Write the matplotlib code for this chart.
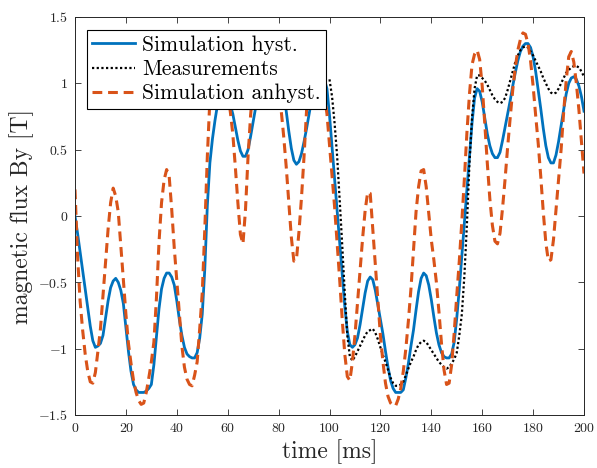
from __future__ import annotations

import matplotlib

matplotlib.use("Agg")
import matplotlib.pyplot as plt

OUT_PNG = "out.png"

BLUE = "#0072BD"
ORANGE = "#D95319"

# time axis [ms], one sample per millisecond
time_sim = list(range(0, 201))
time_meas = list(range(100, 201))

# Simulation hyst. [T]
flux_hyst = [
    0.00, -0.13, -0.27, -0.41, -0.55, -0.69, -0.83, -0.94, -0.99, -0.98,
    -0.96, -0.90, -0.77, -0.64, -0.54, -0.49, -0.47, -0.50, -0.56, -0.66,
    -0.84, -1.02, -1.17, -1.27, -1.31, -1.33, -1.33, -1.33, -1.32, -1.30,
    -1.27, -1.12, -0.91, -0.70, -0.55, -0.47, -0.43, -0.43, -0.46, -0.52,
    -0.64, -0.78, -0.90, -0.99, -1.04, -1.06, -1.07, -1.07, -1.03, -0.92,
    -0.74, -0.40, 0.08, 0.40, 0.58, 0.72, 0.84, 0.93, 0.97, 0.96,
    0.90, 0.84, 0.77, 0.67, 0.57, 0.49, 0.45, 0.45, 0.50, 0.60,
    0.71, 0.82, 0.95, 1.07, 1.17, 1.24, 1.28, 1.30, 1.29, 1.25,
    1.17, 1.05, 0.92, 0.79, 0.64, 0.51, 0.42, 0.39, 0.41, 0.47,
    0.56, 0.66, 0.77, 0.88, 0.97, 1.03, 1.06, 1.06, 1.03, 0.96,
    0.76, 0.52, 0.28, 0.05, -0.20, -0.45, -0.68, -0.87, -0.97, -0.99,
    -0.97, -0.92, -0.82, -0.70, -0.58, -0.49, -0.46, -0.48, -0.56, -0.67,
    -0.78, -0.89, -1.02, -1.14, -1.24, -1.30, -1.33, -1.33, -1.33, -1.31,
    -1.22, -1.11, -0.98, -0.86, -0.71, -0.57, -0.47, -0.43, -0.45, -0.52,
    -0.63, -0.76, -0.88, -0.97, -1.03, -1.06, -1.07, -1.07, -1.04, -0.95,
    -0.77, -0.55, -0.30, -0.06, 0.20, 0.45, 0.70, 0.89, 0.96, 0.94,
    0.86, 0.74, 0.62, 0.53, 0.47, 0.44, 0.44, 0.48, 0.57, 0.67,
    0.77, 0.87, 0.98, 1.08, 1.17, 1.24, 1.28, 1.30, 1.30, 1.27,
    1.20, 1.09, 0.95, 0.81, 0.66, 0.53, 0.44, 0.40, 0.40, 0.46,
    0.56, 0.68, 0.80, 0.92, 1.00, 1.04, 1.05, 1.03, 0.98, 0.90,
    0.79,
]

# Measurements [T]
flux_meas = [
    1.03, 0.90, 0.70, 0.45, 0.12, -0.22, -0.58, -0.90, -1.06, -1.09,
    -1.06, -1.02, -0.98, -0.94, -0.90, -0.87, -0.86, -0.85, -0.88, -0.93,
    -0.99, -1.05, -1.10, -1.16, -1.22, -1.26, -1.28, -1.28, -1.27, -1.25,
    -1.20, -1.15, -1.10, -1.06, -1.01, -0.97, -0.95, -0.94, -0.95, -0.98,
    -1.01, -1.04, -1.07, -1.10, -1.12, -1.14, -1.15, -1.14, -1.11, -1.08,
    -1.03, -0.90, -0.74, -0.45, -0.06, 0.40, 0.74, 0.96, 1.06, 1.06,
    1.04, 1.02, 0.99, 0.95, 0.91, 0.88, 0.86, 0.85, 0.86, 0.89,
    0.95, 1.02, 1.09, 1.16, 1.21, 1.25, 1.27, 1.28, 1.27, 1.24,
    1.21, 1.17, 1.13, 1.09, 1.04, 1.00, 0.96, 0.93, 0.92, 0.93,
    0.96, 1.00, 1.04, 1.08, 1.10, 1.12, 1.13, 1.13, 1.12, 1.09,
    1.05,
]

# Simulation anhyst. [T]
flux_anhyst = [
    0.20, -0.30, -0.64, -0.86, -1.04, -1.17, -1.25, -1.26, -1.18, -1.02,
    -0.85, -0.60, -0.34, -0.10, 0.10, 0.21, 0.15, 0.03, -0.22, -0.48,
    -0.74, -0.96, -1.11, -1.24, -1.33, -1.39, -1.42, -1.41, -1.33, -1.22,
    -1.10, -0.95, -0.62, -0.20, 0.10, 0.27, 0.35, 0.30, 0.05, -0.24,
    -0.49, -0.75, -0.98, -1.14, -1.23, -1.27, -1.28, -1.20, -1.10, -0.85,
    -0.58, -0.10, 0.45, 0.88, 1.08, 1.20, 1.25, 1.24, 1.14, 1.04,
    0.92, 0.79, 0.62, 0.37, 0.10, -0.14, -0.21, 0.05, 0.45, 0.76,
    0.98, 1.15, 1.27, 1.34, 1.37, 1.38, 1.38, 1.36, 1.29, 1.17,
    1.00, 0.80, 0.60, 0.37, 0.10, -0.16, -0.34, -0.33, -0.12, 0.14,
    0.45, 0.80, 1.06, 1.20, 1.25, 1.22, 1.15, 1.04, 0.91, 0.77,
    0.54, 0.30, 0.07, -0.20, -0.48, -0.78, -1.04, -1.21, -1.24, -1.10,
    -0.90, -0.66, -0.41, -0.17, 0.04, 0.18, 0.17, -0.10, -0.38, -0.65,
    -0.90, -1.10, -1.26, -1.36, -1.41, -1.43, -1.43, -1.38, -1.30, -1.17,
    -1.00, -0.79, -0.55, -0.26, 0.03, 0.22, 0.34, 0.35, 0.22, 0.02,
    -0.18, -0.33, -0.50, -0.72, -0.96, -1.16, -1.27, -1.26, -1.12, -0.88,
    -0.60, -0.34, -0.04, 0.28, 0.63, 0.92, 1.14, 1.22, 1.25, 1.18,
    0.98, 0.70, 0.40, 0.13, -0.07, -0.19, -0.21, -0.13, 0.06, 0.28,
    0.52, 0.74, 0.95, 1.12, 1.25, 1.33, 1.38, 1.37, 1.30, 1.17,
    0.98, 0.76, 0.55, 0.30, 0.03, -0.20, -0.34, -0.33, -0.18, 0.05,
    0.28, 0.50, 0.78, 1.02, 1.20, 1.24, 1.16, 1.00, 0.80, 0.56,
    0.32,
]

x_ticks = [0, 20, 40, 60, 80, 100, 120, 140, 160, 180, 200]
y_ticks = [-1.5, -1, -0.5, 0, 0.5, 1, 1.5]
y_tick_labels = ["$-1.5$", "$-1$", "$-0.5$", "$0$", "$0.5$", "$1$", "$1.5$"]
legend_labels = ["Simulation hyst.", "Measurements", "Simulation anhyst."]


def setup_style() -> None:
    plt.rcParams.update({
        "font.family": "serif",
        "font.serif": ["cmr10"],
        "mathtext.fontset": "cm",
        "axes.formatter.use_mathtext": True,
        "axes.unicode_minus": False,
    })


def render(output_path: str) -> None:
    fig = plt.figure(figsize=(5.97, 4.68), dpi=100, facecolor="white")
    ax = fig.add_axes([75 / 597, 53 / 468, 509 / 597, 398 / 468])

    ax.plot(time_sim, flux_hyst, color=BLUE, lw=2.0, label=legend_labels[0],
            solid_joinstyle="round")
    ax.plot(time_meas, flux_meas, color="black", lw=1.6, dashes=(1, 1.1),
            label=legend_labels[1])
    ax.plot(time_sim, flux_anhyst, color=ORANGE, lw=2.2, dashes=(3.2, 1.9),
            label=legend_labels[2])

    ax.set_xlim(0, 200)
    ax.set_ylim(-1.5, 1.5)
    ax.set_xticks(x_ticks)
    ax.set_yticks(y_ticks)
    ax.set_xticklabels([str(t) for t in x_ticks])
    ax.set_yticklabels(y_tick_labels)
    ax.tick_params(direction="in", length=4, width=0.6, top=True, right=True,
                   labelsize=10, colors="#262626", labelcolor="#262626")
    ax.tick_params(axis="x", pad=6)
    ax.tick_params(axis="y", pad=5)
    for spine in ax.spines.values():
        spine.set_linewidth(0.7)
        spine.set_color("#262626")

    ax.set_xlabel("time [ms]", fontsize=17, color="#262626", labelpad=3)
    ax.set_ylabel("magnetic flux By [T]", fontsize=17, color="#262626", labelpad=3)

    leg = ax.legend(loc="upper left", bbox_to_anchor=(12 / 509, 385 / 398),
                    borderaxespad=0, fontsize=15.5, handlelength=2.0,
                    handletextpad=0.3, labelspacing=0.22, borderpad=0.25,
                    fancybox=False, framealpha=1, edgecolor="black")
    leg.get_frame().set_linewidth(0.8)

    fig.savefig(output_path, dpi=100, facecolor="white")
    plt.close(fig)


def main() -> None:
    setup_style()
    render(OUT_PNG)


if __name__ == "__main__":
    main()
